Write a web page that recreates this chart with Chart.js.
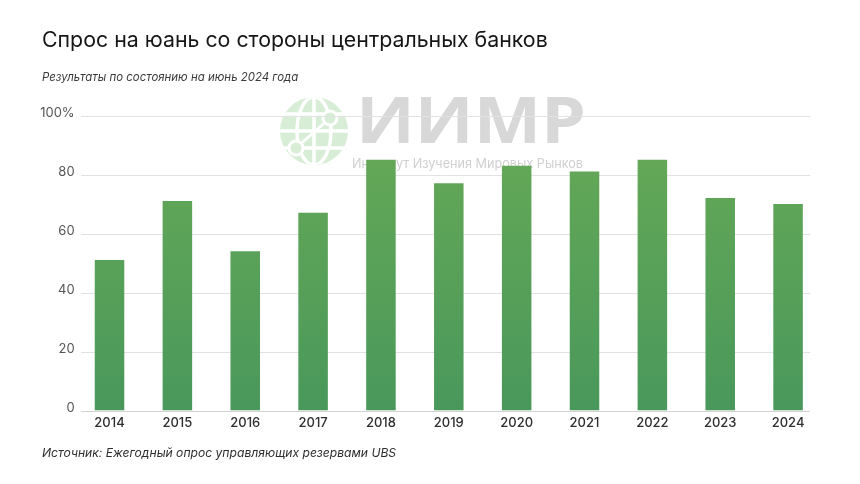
<!DOCTYPE html>
<html>
<head>
<meta charset="utf-8">
<script src="https://cdn.jsdelivr.net/npm/chart.js@4.4.1/dist/chart.umd.min.js"></script>
<style>
  html, body { margin: 0; padding: 0; background: #ffffff; }
  #wrap { position: relative; width: 860px; height: 484px; overflow: hidden; }
  #c { position: absolute; left: 0; top: 0; }
  .txt { position: absolute; white-space: nowrap; font-family: "Inter", "Noto Sans", sans-serif; }
  #title { left: 42px; top: 26px; font-size: 23px; color: #161616; font-weight: 400; }
  #subtitle { left: 42px; top: 70px; font-size: 13px; font-style: italic; color: #3a3a3a; }
  #source { left: 42px; top: 445px; font-size: 13px; font-style: italic; color: #2e2e2e; }
</style>
</head>
<body>
<div id="wrap">
  <canvas id="c" width="860" height="484"></canvas>
  <div class="txt" id="title">Спрос на юань со стороны центральных банков</div>
  <div class="txt" id="subtitle">Результаты по состоянию на июнь 2024 года</div>
  <div class="txt" id="source">Источник: Ежегодный опрос управляющих резервами UBS</div>
</div>
<script>
const categories = ["2014","2015","2016","2017","2018","2019","2020","2021","2022","2023","2024"];
const demandValues = [51, 71, 54, 67, 85, 77, 83, 81, 85, 72, 70];
const yTickValues = [0, 20, 40, 60, 80, 100];
const yTickLabels = ["0", "20", "40", "60", "80", "100%"];

function fitWidth(id, target) {
  const el = document.getElementById(id);
  let fs = parseFloat(getComputedStyle(el).fontSize);
  for (let i = 0; i < 4; i++) {
    const w = el.getBoundingClientRect().width;
    fs = fs * target / w;
    el.style.fontSize = fs + "px";
  }
}
fitWidth("title", 506);
fitWidth("subtitle", 256);
fitWidth("source", 354);

const GRID_LEFT = 81, GRID_RIGHT = 810;

const watermark = {
  id: "watermark",
  beforeDatasetsDraw(chart) {
    const ctx = chart.ctx;
    ctx.save();
    const cx = 314, cy = 131, r = 34;
    ctx.fillStyle = "#d8edd6";
    ctx.beginPath(); ctx.arc(cx, cy, r, 0, Math.PI * 2); ctx.fill();
    ctx.save();
    ctx.beginPath(); ctx.arc(cx, cy, r, 0, Math.PI * 2); ctx.clip();
    ctx.strokeStyle = "#ffffff"; ctx.lineWidth = 3.5;
    ctx.beginPath(); ctx.moveTo(cx, cy - r); ctx.lineTo(cx, cy + r); ctx.stroke();
    ctx.beginPath(); ctx.ellipse(cx, cy, r * 0.5, r, 0, 0, Math.PI * 2); ctx.stroke();
    ctx.beginPath(); ctx.moveTo(cx - r, cy); ctx.lineTo(cx + r, cy); ctx.stroke();
    ctx.beginPath(); ctx.moveTo(cx - r, cy - r * 0.5); ctx.lineTo(cx + r, cy - r * 0.5); ctx.stroke();
    ctx.beginPath(); ctx.moveTo(cx - r, cy + r * 0.5); ctx.lineTo(cx + r, cy + r * 0.5); ctx.stroke();
    ctx.restore();
    ctx.strokeStyle = "#ffffff"; ctx.lineWidth = 3; ctx.fillStyle = "#d8edd6";
    ctx.beginPath(); ctx.moveTo(cx + 16, cy - 13); ctx.lineTo(cx - 18, cy + 17); ctx.stroke();
    [[cx + 16, cy - 13], [cx - 18, cy + 17]].forEach(p => {
      ctx.beginPath(); ctx.arc(p[0], p[1], 7, 0, Math.PI * 2); ctx.fill(); ctx.stroke();
    });
    ctx.fillStyle = "#d8d8d8";
    ctx.font = "bold 64px 'Open Sans', sans-serif";
    ctx.textBaseline = "alphabetic";
    const big = "ИИМР";
    const bw = ctx.measureText(big).width;
    ctx.save();
    ctx.translate(356, 143);
    ctx.scale(230 / bw, 1);
    ctx.fillText(big, 0, 0);
    ctx.restore();
    ctx.fillStyle = "#d0d0d0";
    ctx.font = "13px 'Inter', sans-serif";
    const small = "Институт Изучения Мировых Рынков";
    const sw = ctx.measureText(small).width;
    ctx.save();
    ctx.translate(352, 168);
    ctx.scale(231 / sw, 1);
    ctx.fillText(small, 0, 0);
    ctx.restore();
    const ys = chart.scales.y;
    ctx.lineWidth = 1;
    ys.ticks.forEach(t => {
      const py = Math.round(ys.getPixelForValue(t.value)) + 0.5;
      ctx.strokeStyle = t.value === 0 ? "#d2d2d2" : "#e2e2e2";
      ctx.beginPath(); ctx.moveTo(GRID_LEFT, py); ctx.lineTo(GRID_RIGHT, py); ctx.stroke();
    });
    ctx.restore();
  }
};

const ctx = document.getElementById("c").getContext("2d");
new Chart(ctx, {
  type: "bar",
  data: {
    labels: categories,
    datasets: [{
      data: demandValues,
      backgroundColor(context) {
        const area = context.chart.chartArea;
        if (!area) return "#5aa257";
        const g = context.chart.ctx.createLinearGradient(0, area.top, 0, area.bottom);
        g.addColorStop(0, "#68aa56");
        g.addColorStop(1, "#49985b");
        return g;
      },
      borderWidth: 0,
      categoryPercentage: 1,
      barPercentage: 0.435
    }]
  },
  options: {
    responsive: false,
    animation: false,
    events: [],
    layout: { padding: { left: 0, right: 38, top: 115.5, bottom: 44 } },
    plugins: { legend: { display: false }, tooltip: { enabled: false } },
    scales: {
      x: {
        grid: { display: false, drawTicks: false },
        border: { display: false },
        ticks: {
          padding: 5,
          color: "#2f2f2f",
          font: { family: "Inter", size: 13, weight: "500" },
          maxRotation: 0
        },
        afterFit(scale) { scale.height = 29.5; }
      },
      y: {
        min: 0, max: 100,
        afterBuildTicks(scale) { scale.ticks = yTickValues.map(v => ({ value: v })); },
        grid: { display: false, drawTicks: false },
        border: { display: false },
        ticks: {
          padding: 1,
          labelOffset: -2,
          color: "#555555",
          font: { family: "Inter", size: 13 },
          callback(value) { return yTickLabels[yTickValues.indexOf(value)]; }
        },
        afterFit(scale) { scale.width = 75.6; }
      }
    }
  },
  plugins: [watermark]
});
</script>
</body>
</html>
